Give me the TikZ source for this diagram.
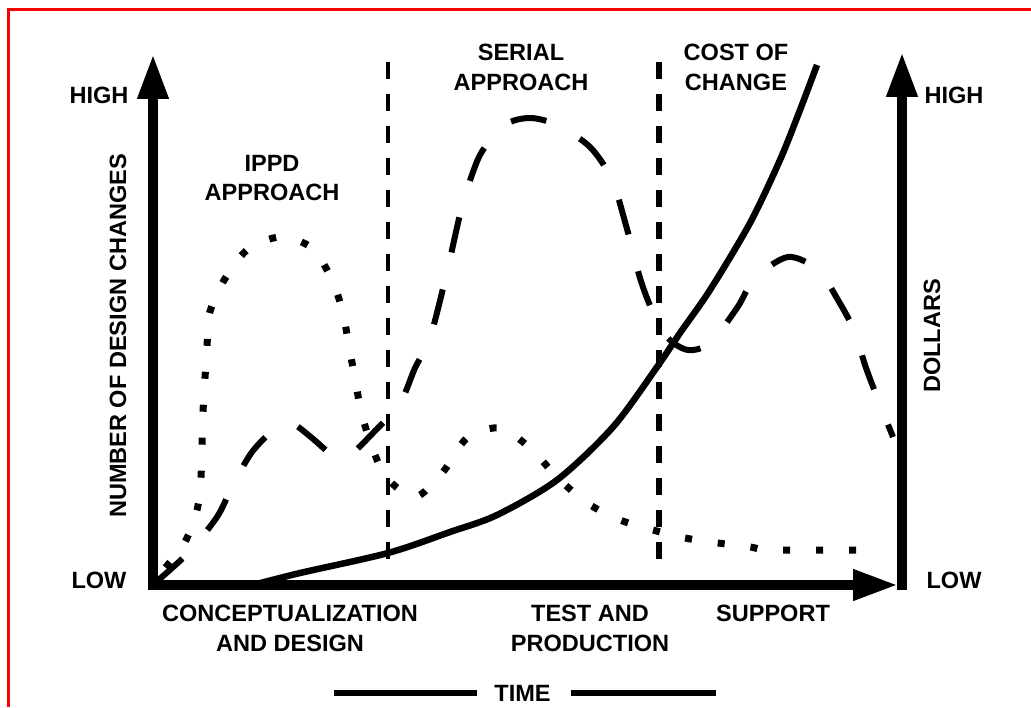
\documentclass[tikz,border=0pt]{standalone}
\usepackage{fontspec}
\setmainfont{Liberation Sans}
\usetikzlibrary{arrows.meta}

\begin{document}
\begin{tikzpicture}[
    caps/.style={font=\fontsize{13.4}{17}\selectfont\bfseries,align=center,inner sep=0pt},
    axisline/.style={line width=0.2cm,-{Triangle[length=0.9cm,width=0.58cm]}},
    divider/.style={dash pattern=on 0.34cm off 0.3cm},
    curve/.style={line width=0.13cm}
]
    \useasboundingbox (-3.06,-2.44) rectangle (17.56,11.7);

    % Frame (top and left only)
    \draw[red,line width=0.06cm] (17.56,11.51) -- (-2.89,11.51) -- (-2.89,-2.44);

    % Axes
    \draw[axisline] (0,-0.1) -- (0,10.62);
    \draw[axisline] (-0.1,0) -- (14.9,0);
    \draw[axisline] (14.98,-0.1) -- (14.98,10.66);

    % Axis labels
    \node[caps] (highL) at (-1.08,9.8) {HIGH};
    \node[caps] (lowL) at (-1.08,0.1) {LOW};
    \node[caps] (highR) at (16.02,9.8) {HIGH};
    \node[caps] (lowR) at (16.02,0.1) {LOW};
    \node[caps,rotate=90] (changes) at (-0.7,4.98) {NUMBER OF DESIGN CHANGES};
    \node[caps,rotate=90] (dollars) at (15.58,4.98) {DOLLARS};

    % Phase dividers
    \draw[divider,line width=0.08cm] (4.7,10.46) -- (4.7,0.3);
    \draw[divider,line width=0.12cm] (10.12,10.46) -- (10.12,0.3);

    % Cost of change
    \draw[curve] plot[smooth] coordinates {(2.0,0) (2.94,0.24) (4.7,0.64) (5.94,1.06)
        (6.88,1.4) (8.08,2.1) (9.2,3.16) (10.08,4.36) (10.54,5.04) (11.14,5.9)
        (11.94,7.24) (12.54,8.5) (12.94,9.5) (13.28,10.4)};

    % Serial approach
    \draw[line width=0.12cm,dash pattern=on 0.72cm off 0.76cm] plot[smooth] coordinates {
        (0.05,0.05) (0.7,0.64) (1.28,1.36) (1.58,1.96) (1.98,2.66) (2.48,3.16)
        (2.8,3.22) (3.18,2.94) (3.64,2.56) (3.94,2.6) (4.4,3.04) (4.94,3.64)
        (5.24,4.34) (5.54,4.94) (5.88,6.26) (6.18,7.56) (6.54,8.6) (7.04,9.2)
        (7.54,9.34) (8.08,9.2) (8.74,8.76) (9.18,8.1) (9.48,7.12) (9.74,6.14)
        (9.98,5.5) (10.3,4.94) (10.7,4.7) (11.14,4.84) (11.68,5.54) (12.04,6.14)
        (12.7,6.56) (13.3,6.3) (13.7,5.7) (14.04,5.06) (14.24,4.4) (14.48,3.76)
        (14.8,2.96)};

    % IPPD approach
    \draw[line width=0.14cm,dash pattern=on 0.14cm off 0.52cm] plot[smooth] coordinates {
        (0.25,0.35) (0.64,0.86) (0.88,1.5) (0.96,2.16) (1.0,3.46) (1.08,4.76)
        (1.12,5.4) (1.4,6.06) (1.88,6.7) (2.54,6.96) (3.18,6.74) (3.58,6.1)
        (3.8,5.44) (3.92,4.76) (4.04,4.14) (4.16,3.48) (4.36,2.82) (4.66,2.16)
        (5.24,1.76) (5.8,2.26) (6.28,2.94) (6.94,3.14) (7.54,2.74) (8.1,2.14)
        (8.68,1.64) (9.34,1.3) (10.0,1.1) (10.64,0.94) (11.3,0.84) (11.94,0.76)
        (12.4,0.7) (14.38,0.7)};

    % Curve names
    \node[caps,anchor=north] (ippd) at (2.38,8.61) {IPPD\\APPROACH};
    \node[caps,anchor=north] (serial) at (7.36,10.83) {SERIAL\\APPROACH};
    \node[caps,anchor=north] (cost) at (11.66,10.83) {COST OF\\CHANGE};

    % Phases along the time axis
    \node[caps,anchor=north] (concept) at (2.74,-0.39) {CONCEPTUALIZATION\\AND DESIGN};
    \node[caps,anchor=north] (test) at (8.74,-0.39) {TEST AND\\PRODUCTION};
    \node[caps,anchor=north] (support) at (12.4,-0.39) {SUPPORT};

    % Time
    \node[caps] (time) at (7.39,-2.16) {TIME};
    \draw[curve] (time.west) ++(-0.34,0) -- ++(-2.86,0);
    \draw[curve] (time.east) ++(0.4,0) -- ++(2.9,0);
\end{tikzpicture}
\end{document}
